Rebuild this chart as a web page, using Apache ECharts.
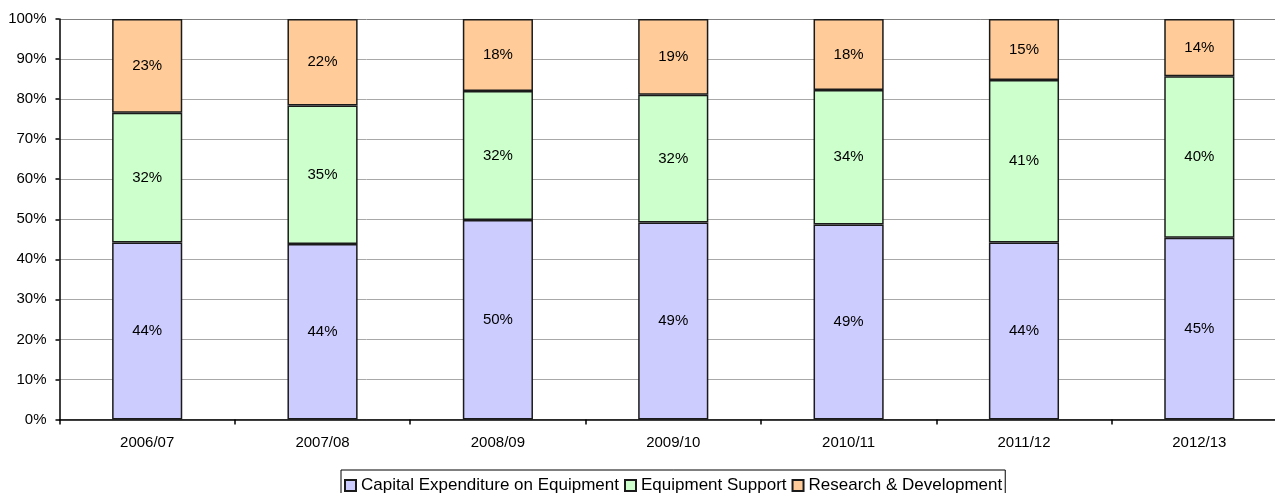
<!DOCTYPE html>
<html>
<head>
<meta charset="utf-8">
<script src="https://cdn.jsdelivr.net/npm/echarts@6/dist/echarts.min.js"></script>
<style>html,body{margin:0;padding:0;background:#fff;overflow:hidden}#c{width:1287px;height:493px}</style>
</head>
<body>
<div id="c"></div>
<script>
var categories = ['2006/07','2007/08','2008/09','2009/10','2010/11','2011/12','2012/13'];
var capitalExpenditure = [44.2, 43.8, 49.8, 49.2, 48.7, 44.2, 45.4];
var equipmentSupport = [32.4, 34.6, 32.2, 31.9, 33.6, 40.6, 40.3];
var researchDevelopment = [23.4, 21.6, 18.0, 18.9, 17.7, 15.2, 14.3];
var seriesNames = ['Capital Expenditure on Equipment','Equipment Support','Research & Development'];
var seriesColors = ['#CCCCFF','#CCFFCC','#FFCC99'];
var yTicks = [0,10,20,30,40,50,60,70,80,90,100];

var font = 'Arial, "Liberation Sans", sans-serif';
var chart = echarts.init(document.getElementById('c'), null, {renderer:'canvas'});
var gridColors = yTicks.map(function(v){ return v === 100 ? '#808080' : '#A8A8A8'; });

function mk(name, data, color){
  return {
    name: name, type: 'bar', stack: 'total', data: data, barWidth: '40%',
    itemStyle: {color: color, borderColor: '#1a1a1a', borderWidth: 1.5},
    label: {show: true, position: 'inside', color: '#000', fontFamily: font, fontSize: 15,
      formatter: function(p){ return Math.round(p.value) + '%'; }},
    emphasis: {disabled: true}
  };
}

chart.setOption({
  animation: false,
  grid: {left: 59.5, top: 19, right: 0, bottom: 73.5, containLabel: false},
  legend: {
    data: seriesNames, left: 341, top: 470, orient: 'horizontal',
    itemWidth: 11, itemHeight: 11, itemGap: 5, icon: 'rect',
    padding: [7, 3, 10, 3],
    borderColor: '#000', borderWidth: 1,
    textStyle: {fontFamily: font, fontSize: 17, color: '#000'},
    selectedMode: false
  },
  xAxis: {
    type: 'category', data: categories, boundaryGap: true,
    axisLine: {lineStyle: {color: '#000', width: 1.5}},
    axisTick: {show: true, length: 5, lineStyle: {color: '#000', width: 1.5}},
    axisLabel: {fontFamily: font, fontSize: 15, color: '#000', margin: 16}
  },
  yAxis: {
    type: 'value', min: 0, max: 100, interval: 10,
    axisLine: {show: true, lineStyle: {color: '#000', width: 1.5}},
    axisTick: {show: true, length: 4, lineStyle: {color: '#000', width: 1.5}},
    axisLabel: {fontFamily: font, fontSize: 15, color: '#000', margin: 13,
      formatter: function(v){ return v + '%'; }},
    splitLine: {show: true, lineStyle: {color: gridColors, width: 1}}
  },
  series: [
    mk(seriesNames[0], capitalExpenditure, seriesColors[0]),
    mk(seriesNames[1], equipmentSupport, seriesColors[1]),
    mk(seriesNames[2], researchDevelopment, seriesColors[2])
  ]
});
</script>
</body>
</html>
